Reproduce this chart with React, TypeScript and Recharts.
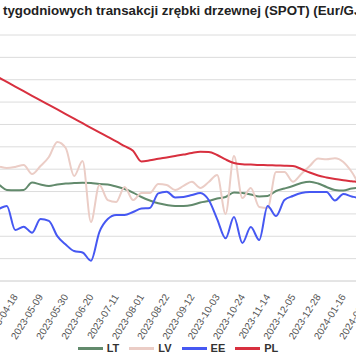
import { LineChart, Line, XAxis, YAxis, CartesianGrid } from 'recharts'

const dates = [
  '2023-03-28', '2023-04-04', '2023-04-11', '2023-04-18', '2023-04-25', '2023-05-02',
  '2023-05-09', '2023-05-16', '2023-05-23', '2023-05-30', '2023-06-06', '2023-06-13',
  '2023-06-20', '2023-06-27', '2023-07-04', '2023-07-11', '2023-07-18', '2023-07-25',
  '2023-08-01', '2023-08-08', '2023-08-15', '2023-08-22', '2023-08-29', '2023-09-05',
  '2023-09-12', '2023-09-19', '2023-09-26', '2023-10-03', '2023-10-10', '2023-10-17',
  '2023-10-24', '2023-10-31', '2023-11-07', '2023-11-14', '2023-11-21', '2023-11-28',
  '2023-12-05', '2023-12-12', '2023-12-19', '2023-12-28', '2024-01-02', '2024-01-09',
  '2024-01-16', '2024-01-23', '2024-01-30', '2024-02-06', '2024-02-13',
]

const lt = [
  16.85, 16.63, 16.14, 16.11, 16.14, 16.81, 16.63, 16.5, 16.63, 16.72, 16.76, 16.79,
  16.76, 16.67, 16.63, 16.45, 16.23, 15.91, 15.51, 15.2, 14.95, 14.8, 14.71, 14.71,
  14.8, 15.02, 15.15, 15.38, 15.51, 15.91, 15.87, 15.74, 15.56, 15.6, 16.05, 16.27,
  16.5, 16.76, 16.88, 16.72, 16.41, 16.14, 16.09, 16.27, 16.32, 16.32, 16.32,
]

const lv = [
  18.37, 18.24, 18.11, 18.2, 18.37, 17.57, 18.28, 19.09, 20.43, 19.89, 17.39, 18.73,
  13.28, 16.59, 15.24, 15.07, 16.41, 15.24, 15.87, 15.87, 16.67, 16.59, 16.14, 16.5,
  16.88, 16.32, 16.85, 17.48, 13.99, 19.18, 15.42, 16.32, 14.62, 14.53, 17.75, 17.75,
  16.88, 17.57, 18.28, 18.96, 18.88, 18.97, 18.64, 17.75, 16.59, 16.32, 16.32,
]

const ee = [
  14.17, 14.44, 14.71, 12.56, 12.86, 12.32, 13.54, 13.37, 12.02, 11.26, 10.68, 10.55,
  9.82, 12.38, 13.54, 13.9, 13.9, 14.17, 14.48, 14.53, 15.83, 15.99, 15.47, 15.51,
  15.69, 15.87, 15.24, 13.54, 11.82, 13.72, 11.4, 12.83, 11.67, 14.71, 13.81, 15.24,
  15.6, 15.87, 15.96, 15.96, 15.96, 15.2, 15.78, 15.56, 15.42, 15.42, 15.42,
]

const pl = [
  26.61, 26.21, 25.8, 25.39, 24.97, 24.56, 24.16, 23.75, 23.34, 22.93, 22.52, 22.11,
  21.7, 21.29, 20.88, 20.48, 20.06, 19.65, 18.69, 18.79, 18.93, 19.05, 19.18, 19.31,
  19.45, 19.55, 19.54, 19.27, 18.87, 18.55, 18.44, 18.41, 18.37, 18.36, 18.33, 18.31,
  18.28, 18.02, 17.7, 17.43, 17.26, 17.12, 17.01, 16.92, 16.83, 16.76, 16.72,
]

const yTicks = [8, 10, 12, 14, 16, 18, 20, 22, 24, 26, 28, 30]

const series = [
  { key: 'LT', color: '#628a6c' },
  { key: 'LV', color: '#ebcdc6' },
  { key: 'EE', color: '#4658f2' },
  { key: 'PL', color: '#d8303f' },
]

const data = dates.map((d, i) => ({ date: d, LT: lt[i], LV: lv[i], EE: ee[i], PL: pl[i] }))

const font = 'Arial, "Liberation Sans", Helvetica, sans-serif'

const DateTick = ({ x, y, payload }: any) => (
  <g transform={`translate(${x},${y + 6}) rotate(-58)`}>
    <text x={0} y={0} dy="0.35em" textAnchor="end" fontSize={10} fill="#555" fontFamily={font}>
      {payload.value}
    </text>
  </g>
)

export default function App() {
  return (
    <div
      style={{
        position: 'fixed',
        left: 0,
        top: 0,
        width: 356,
        height: 364,
        overflow: 'hidden',
        background: '#fff',
        fontFamily: font,
      }}
    >
      <div
        style={{
          position: 'absolute',
          left: 3,
          top: 3,
          fontSize: 13.3,
          fontWeight: 'bold',
          color: '#222',
          whiteSpace: 'nowrap',
        }}
      >
        tygodniowych transakcji zrębki drzewnej (SPOT) (Eur/GJ)
      </div>
      <div style={{ position: 'absolute', left: -50, top: 0 }}>
        <LineChart width={440} height={341} data={data} margin={{ top: 35, right: 13, left: 0, bottom: 0 }}>
          <CartesianGrid vertical={false} stroke="#dcdcdc" />
          <XAxis
            dataKey="date"
            interval={2}
            tick={<DateTick />}
            tickLine={false}
            axisLine={{ stroke: '#dcdcdc' }}
            height={60}
          />
          <YAxis
            domain={[8, 30]}
            ticks={yTicks}
            interval={0}
            width={40}
            axisLine={false}
            tickLine={false}
            tick={{ fontSize: 10, fill: '#555' }}
          />
          {series.map((s) => (
            <Line
              key={s.key}
              type="monotone"
              dataKey={s.key}
              stroke={s.color}
              strokeWidth={2}
              dot={false}
              isAnimationActive={false}
            />
          ))}
        </LineChart>
      </div>
      <div
        style={{
          position: 'absolute',
          left: 0,
          top: 342,
          width: 356,
          display: 'flex',
          justifyContent: 'center',
          alignItems: 'center',
          gap: 10,
          fontSize: 11,
          fontWeight: 'bold',
          color: '#333',
        }}
      >
        {series.map((s) => (
          <div key={s.key} style={{ display: 'flex', alignItems: 'center', gap: 4 }}>
            <div style={{ width: 25, height: 3, background: s.color }} />
            <span>{s.key}</span>
          </div>
        ))}
      </div>
    </div>
  )
}
